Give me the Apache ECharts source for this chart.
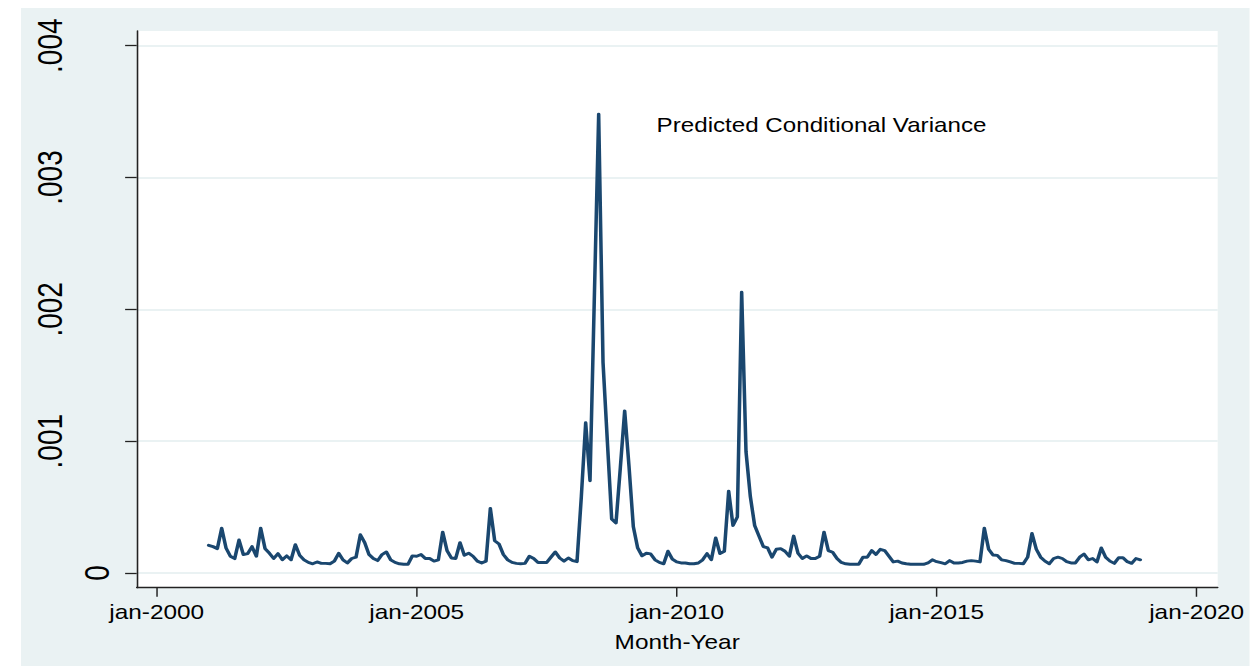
<!DOCTYPE html>
<html>
<head>
<meta charset="utf-8">
<script src="https://cdn.jsdelivr.net/npm/echarts@6/dist/echarts.min.js"></script>
<style>
  html, body { margin: 0; padding: 0; background: #ffffff; width: 1256px; height: 666px; overflow: hidden; }
  /* graph region, drawn at Stata's narrower aspect and widened horizontally */
  #chart {
    position: absolute; left: 21px; top: 8px;
    width: 1007.38px; height: 658px;
    transform: scaleX(1.22); transform-origin: 0 0;
  }
</style>
</head>
<body>
<div id="chart"></div>
<script>
// Monthly predicted conditional variance, Jan 2001 - Dec 2018 (one row per year)
const startYear = 2001;
const variance = [
  0.00021, 0.0002, 0.000185, 0.00034, 0.00019, 0.000127, 0.000109, 0.00025, 0.00014, 0.000147, 0.0002, 0.000127,
  0.00034, 0.000185, 0.00015, 0.00011, 0.000147, 0.0001, 0.00013, 0.0001, 0.000215, 0.000134, 0.0001, 0.00008,
  0.00007, 0.000084, 0.000073, 0.000073, 0.00007, 0.00009, 0.00015, 0.0001, 0.000076, 0.00011, 0.00012, 0.00029,
  0.00023, 0.00014, 0.00011, 0.000094, 0.00014, 0.00016, 0.0001, 0.00008, 0.00007, 0.000066, 0.000066, 0.00013,
  0.000127, 0.00014, 0.00011, 0.00011, 0.00009, 0.0001, 0.00031, 0.00017, 0.000114, 0.00011, 0.00023, 0.000134,
  0.00015, 0.000127, 0.00009, 0.000076, 0.00009, 0.00049, 0.000245, 0.00022, 0.00014, 0.0001, 0.00008, 0.000073,
  0.00007, 0.000073, 0.000127, 0.00011, 0.00008, 0.00008, 0.00008, 0.00012, 0.00016, 0.000114, 0.00009, 0.000114,
  0.000094, 0.000086, 0.00058, 0.00114, 0.0007, 0.00209, 0.00348, 0.0016, 0.001, 0.00041, 0.00038, 0.0008,
  0.00123, 0.00081, 0.00035, 0.00019, 0.00013, 0.00015, 0.000145, 0.0001, 0.00008, 0.00007, 0.000165, 0.000106,
  0.000084, 0.000076, 0.000076, 0.00007, 0.00007, 0.000076, 0.0001, 0.000147, 0.0001, 0.000266, 0.000147, 0.000165,
  0.00062, 0.00036, 0.000425, 0.00213, 0.00092, 0.00058, 0.00036, 0.00028, 0.0002, 0.00019, 0.00012, 0.00018,
  0.000185, 0.000165, 0.000127, 0.00028, 0.00015, 0.00011, 0.00013, 0.00011, 0.00011, 0.000127, 0.00031, 0.00017,
  0.000157, 0.00011, 0.00008, 0.00007, 0.000066, 0.000066, 0.000066, 0.00012, 0.00012, 0.00017, 0.00014, 0.00018,
  0.00017, 0.000127, 0.000084, 0.00009, 0.000076, 0.00007, 0.000066, 0.000066, 0.000066, 0.000066, 0.000076, 0.0001,
  0.000086, 0.000078, 0.00007, 0.000094, 0.000076, 0.000076, 0.00008, 0.00009, 0.000094, 0.00009, 0.000084, 0.00034,
  0.00018, 0.000137, 0.000134, 0.0001, 0.000094, 0.000084, 0.000073, 0.000073, 0.00007, 0.00012, 0.0003, 0.00018,
  0.00012, 0.00009, 0.00007, 0.00011, 0.00012, 0.00011, 0.000086, 0.000076, 0.000076, 0.00012, 0.000144, 0.0001,
  0.00011, 0.000084, 0.00019, 0.00012, 0.00009, 0.000073, 0.000116, 0.000116, 0.000086, 0.000073, 0.00011, 0.0001
];

// Axis ticks and labels
const xTickYears = [2000, 2005, 2010, 2015, 2020];
const yTicks = [0, 0.001, 0.002, 0.003, 0.004];
const yLabelsMain = [0.001, 0.002, 0.003, 0.004];
const yLabelsZero = [0];

const seriesName = 'Predicted Conditional Variance';
const xTitle = 'Month-Year';

// Monthly dates as evenly spaced decimal years (%tm style)
const points = variance.map((v, i) => [startYear + i / 12, v]);

const FONT = '"Liberation Sans", Arial, sans-serif';
const fmtY = v => (v === 0 ? '0' : String(+v.toFixed(3)).replace(/^0\./, '.'));

const chart = echarts.init(document.getElementById('chart'), null, {
  renderer: 'svg', width: 1007.38, height: 658
});

chart.setOption({
  backgroundColor: '#eaf2f3',
  animation: false,
  title: {
    text: seriesName,
    left: 516, top: 102,
    textStyle: { fontFamily: FONT, fontSize: 19.8, fontWeight: 'normal', color: '#000' }
  },
  grid: {
    left: 94.84, right: 26.48, top: 23, bottom: 78.3,
    show: true, backgroundColor: '#ffffff', borderWidth: 0,
    containLabel: false
  },
  xAxis: {
    type: 'value',
    min: 1999.6154, max: 2020.405,
    name: xTitle,
    nameLocation: 'middle',
    nameGap: 45,
    nameTextStyle: { fontFamily: FONT, fontSize: 20, color: '#000' },
    axisLine: { show: true, onZero: false, lineStyle: { color: '#222', width: 1.3 } },
    axisTick: { show: true, length: 9, customValues: xTickYears, lineStyle: { color: '#222', width: 1.2 } },
    axisLabel: {
      customValues: xTickYears,
      formatter: v => 'jan-' + Math.round(v),
      fontFamily: FONT, fontSize: 20, color: '#000', margin: 15
    },
    splitLine: { show: false }
  },
  yAxis: [
    {
      type: 'value',
      min: -0.0001115, max: 0.0041115,
      position: 'left',
      axisLine: { show: true, onZero: false, lineStyle: { color: '#222', width: 1.3 } },
      axisTick: { show: true, length: 9.5, customValues: yTicks, lineStyle: { color: '#222', width: 1.3 } },
      axisLabel: {
        customValues: yLabelsMain,
        formatter: fmtY,
        rotate: 90,
        fontFamily: FONT, fontSize: 28, color: '#000', margin: 57
      },
      splitLine: { show: true, lineStyle: { color: '#eaf2f3', width: 2 } }
    },
    {
      type: 'value',
      min: -0.0001115, max: 0.0041115,
      position: 'left',
      axisLine: { show: false },
      axisTick: { show: false },
      axisLabel: {
        customValues: yLabelsZero,
        formatter: fmtY,
        rotate: 90,
        fontFamily: FONT, fontSize: 28, color: '#000', margin: 18
      },
      splitLine: { show: false }
    }
  ],
  series: [{
    name: seriesName,
    type: 'line',
    data: points,
    showSymbol: false,
    symbol: 'none',
    lineStyle: { color: '#1a476f', width: 2.9, join: 'round', cap: 'round' },
    z: 3
  }]
});
</script>
</body>
</html>
